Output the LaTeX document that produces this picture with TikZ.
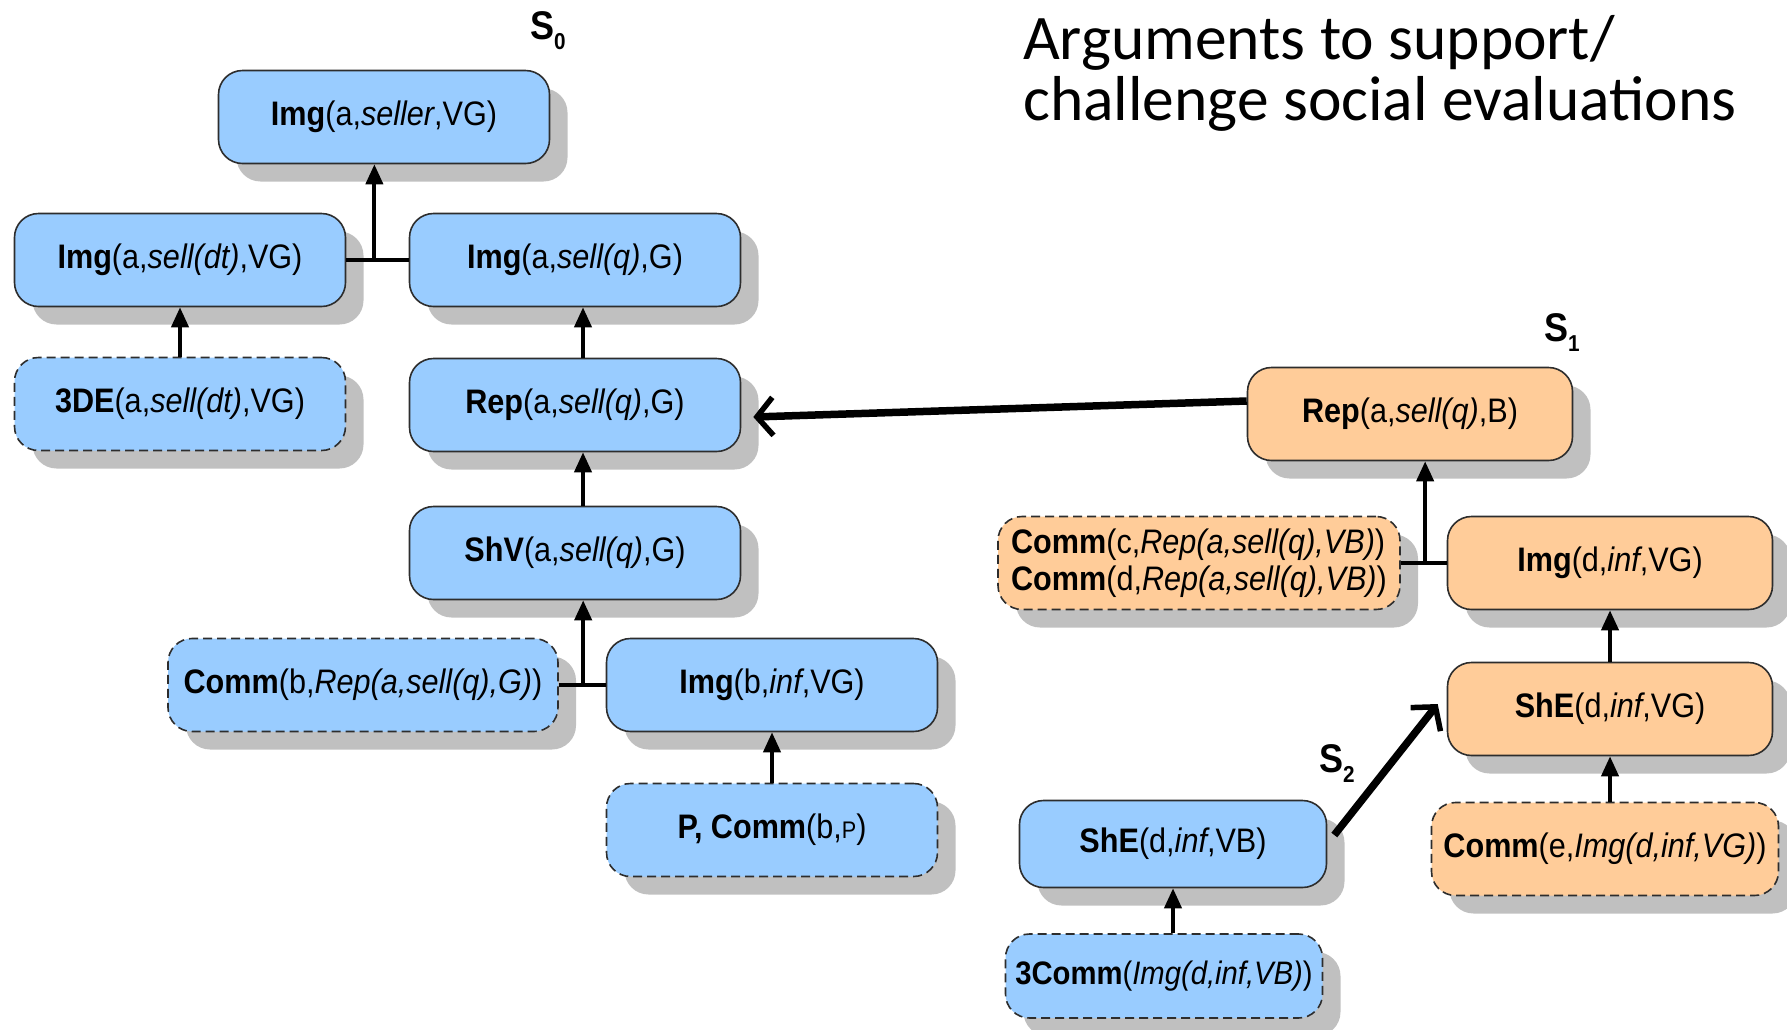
\documentclass[tikz,border=0pt]{standalone}
\usepackage{fontspec}
\setmainfont[FakeStretch=0.9]{Liberation Sans}
\newfontfamily\titlefont{Carlito}
\usetikzlibrary{arrows.meta,shadows,calc}

\definecolor{boxblue}{RGB}{153,204,255}
\definecolor{boxorange}{RGB}{255,204,153}
\definecolor{edge}{RGB}{45,45,45}
\definecolor{shade}{RGB}{192,192,192}

\newcommand{\slabel}[2]{\textbf{#1}\raisebox{-10pt}{\fontsize{23}{23}\selectfont\bfseries #2}}

\begin{document}
\begin{tikzpicture}[x=1pt,y=-1pt,
  box/.style={rectangle, rounded corners=24pt, minimum width=331pt,
    minimum height=93pt, inner sep=0pt, draw=edge, line width=1.6pt,
    font=\fontsize{34}{40}\selectfont, align=center,
    drop shadow={shadow xshift=18pt, shadow yshift=-18pt, fill=shade, opacity=1}},
  bluebox/.style={box, fill=boxblue},
  orangebox/.style={box, fill=boxorange},
  dashedge/.style={dash pattern=on 9pt off 5pt},
  link/.style={line width=4pt},
  arr/.style={link, -{Triangle[length=20pt,width=17pt]}},
  bigarr/.style={line width=7.5pt, -{Straight Barb[length=16pt,width=38pt,line width=5.5pt]}},
  slab/.style={anchor=base west, inner sep=0pt, font=\fontsize{40}{40}\selectfont},
  titletext/.style={anchor=base west, inner sep=0pt, font=\titlefont\fontsize{63.5}{63.5}\selectfont}
]
\useasboundingbox (0,0) rectangle (1787,1029);

% argument tree S0
\node[bluebox] (imgSeller) at (384,117) {\textbf{Img}(a,\textit{seller},VG)};
\node[bluebox] (imgDt) at (180,260) {\textbf{Img}(a,\textit{sell(dt)},VG)};
\node[bluebox, dashedge] (de3) at (180,404) {\textbf{3DE}(a,\textit{sell(dt)},VG)};
\node[bluebox] (imgQ) at (575,260) {\textbf{Img}(a,\textit{sell(q)},G)};
\node[bluebox] (repG) at (575,405) {\textbf{Rep}(a,\textit{sell(q)},G)};
\node[bluebox] (shv) at (575,553) {\textbf{ShV}(a,\textit{sell(q)},G)};
\node[bluebox, dashedge, minimum width=390pt] (commB) at (363,685) {\textbf{Comm}(b,\textit{Rep(a,sell(q),G)})};
\node[bluebox] (imgB) at (772,685) {\textbf{Img}(b,\textit{inf},VG)};
\node[bluebox, dashedge] (pComm) at (772,830) {\textbf{P, Comm}(b,{\fontsize{24}{24}\selectfont P})};

% argument tree S1
\node[orangebox, minimum width=325pt] (repB) at (1410,414) {\textbf{Rep}(a,\textit{sell(q)},B)};
\node[orangebox, dashedge, minimum width=402pt, align=left, font=\fontsize{34}{37}\selectfont] (commCD) at (1199,563)
  {\textbf{Comm}(c,\textit{Rep(a,sell(q),VB)})\\\textbf{Comm}(d,\textit{Rep(a,sell(q),VB)})};
\node[orangebox, minimum width=325pt] (imgD) at (1610,563) {\textbf{Img}(d,\textit{inf},VG)};
\node[orangebox, minimum width=325pt] (sheVG) at (1610,709) {\textbf{ShE}(d,\textit{inf},VG)};
\node[orangebox, dashedge, minimum width=347pt] (commE) at (1605,849) {\textbf{Comm}(e,\textit{Img(d,inf,VG)})};

% argument tree S2
\node[bluebox, minimum width=307pt, minimum height=87pt] (sheVB) at (1173,844) {\textbf{ShE}(d,\textit{inf},VB)};
\node[bluebox, dashedge, minimum width=317pt, minimum height=84pt, font=\fontsize{32.5}{38}\selectfont] (comm3) at (1164,976) {\textbf{3Comm}(\textit{Img(d,inf,VB)})};

% labels
\node[slab] (s0) at (530,39) {\slabel{S}{0}};
\node[slab] (s1) at (1544,341) {\slabel{S}{1}};
\node[slab] (s2) at (1319,772) {\slabel{S}{2}};
\node[titletext] (title1) at (1023,59) {Arguments to support/};
\node[titletext] (title2) at (1023,120) {challenge social evaluations};

% support links in S0
\coordinate (j1) at ($(imgDt.east)!0.45!(imgQ.west)$);
\draw[link] (imgDt.east) -- (imgQ.west);
\draw[arr] (j1) -- (j1 |- imgSeller.south);
\draw[arr] (de3.north) -- (imgDt.south);
\draw[arr] ([xshift=8pt]repG.north) -- ([xshift=8pt]imgQ.south);
\draw[arr] ([xshift=8pt]shv.north) -- ([xshift=8pt]repG.south);
\coordinate (j2) at ($(commB.east)!0.52!(imgB.west)$);
\draw[link] (commB.east) -- (imgB.west);
\draw[arr] (j2) -- (j2 |- shv.south);
\draw[arr] (pComm.north) -- (imgB.south);

% support links in S1
\coordinate (j3) at ($(commCD.east)!0.53!(imgD.west)$);
\draw[link] (commCD.east) -- (imgD.west);
\draw[arr] (j3) -- (j3 |- repB.south);
\draw[arr] (sheVG.north) -- (imgD.south);
\draw[arr] (sheVG.south |- commE.north) -- (sheVG.south);

% support link in S2
\draw[arr] (sheVB.south |- comm3.north) -- (sheVB.south);

% attacks between arguments
\draw[bigarr] ([yshift=13pt]repB.west) -- ([xshift=12pt,yshift=-12pt]repG.east);
\draw[bigarr] ([xshift=7pt,yshift=9pt]sheVB.east) -- ([xshift=-9pt,yshift=5pt]sheVG.west);
\end{tikzpicture}
\end{document}
